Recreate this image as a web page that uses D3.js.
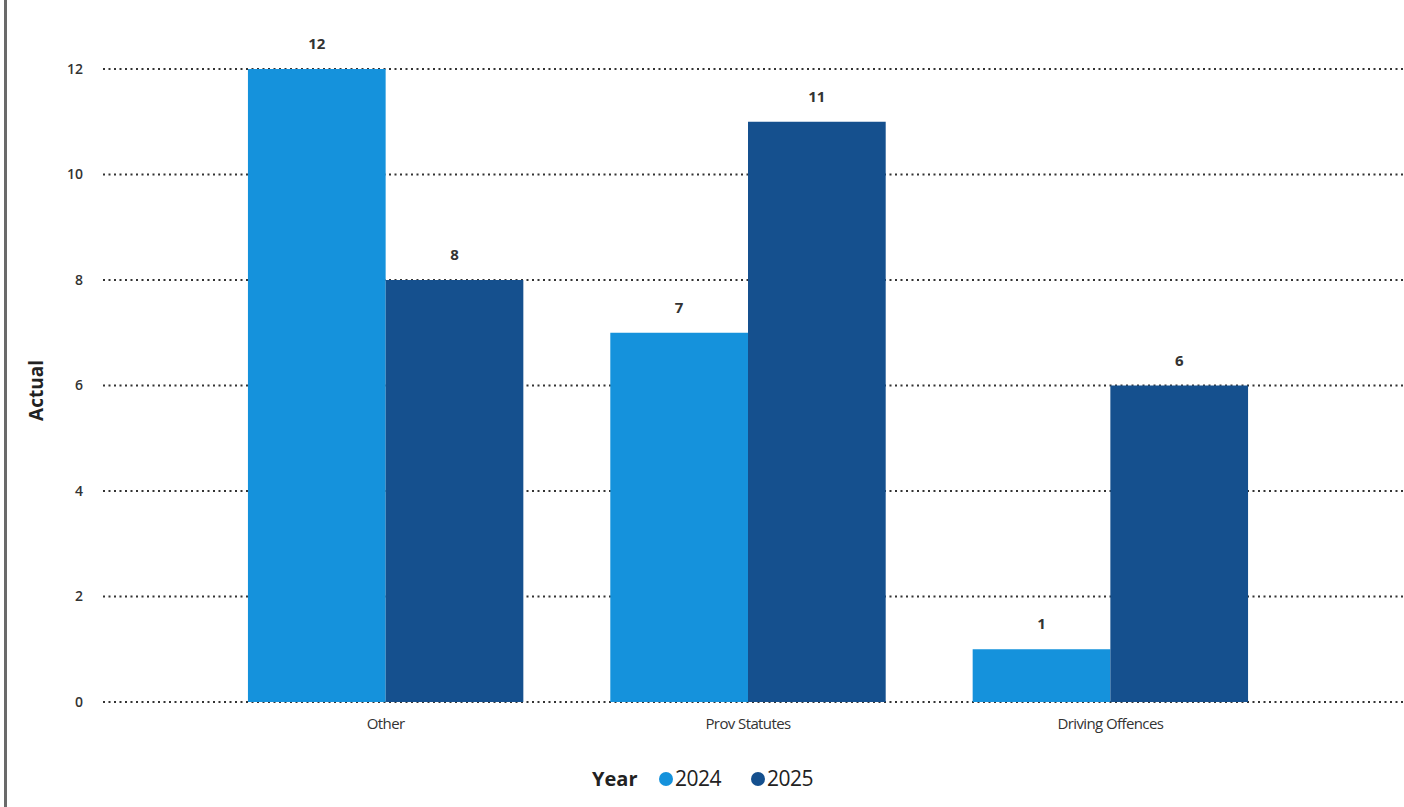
<!DOCTYPE html>
<html>
<head>
<meta charset="utf-8">
<script src="https://cdn.jsdelivr.net/npm/d3@7/dist/d3.min.js"></script>
<style>
  html, body { margin: 0; padding: 0; background: #fff; }
  svg { display: block; }
</style>
</head>
<body>
<svg id="chart" width="1404" height="807"></svg>
<script>
const categories = ["Other", "Prov Statutes", "Driving Offences"];
const years = ["2024", "2025"];
const values2024 = [12, 7, 1];
const values2025 = [8, 11, 6];
const yTicks = [0, 2, 4, 6, 8, 10, 12];
const colors = ["#1592dc", "#15508e"];

const W = 1404, H = 807;
const svg = d3.select("#chart");
const font = "'Open Sans', 'Noto Sans', sans-serif";

// frame line at left
svg.append("line").attr("x1", 5.5).attr("x2", 5.5).attr("y1", 0).attr("y2", H)
  .attr("stroke", "#6a6a6a").attr("stroke-width", 3);

const plot = { left: 103, right: 1393, top: 69, bottom: 702 };

const x = d3.scaleBand().domain(categories).range([plot.left, plot.right])
  .paddingInner(0.24).paddingOuter(0.4);
const xs = d3.scaleBand().domain(years).range([0, x.bandwidth()]).padding(0);
const y = d3.scaleLinear().domain([0, 12]).range([plot.bottom, plot.top]);

// gridlines
const grid = svg.append("g");
grid.selectAll("line").data(yTicks).join("line")
  .attr("x1", plot.left).attr("x2", W)
  .attr("y1", d => y(d)).attr("y2", d => y(d))
  .attr("stroke", "#333").attr("stroke-width", 1.8)
  .attr("stroke-dasharray", "2,3.5");

// y tick labels
const yAxis = d3.axisLeft(y).tickValues(yTicks).tickSize(0).tickPadding(0);
const ya = svg.append("g").attr("transform", `translate(${plot.left - 20},0)`).call(yAxis);
ya.select(".domain").remove();
ya.selectAll("text").attr("font-family", font).attr("font-size", 14)
  .attr("fill", "#333").attr("font-weight", 600);

// y title
svg.append("text").attr("transform", `translate(43,${(plot.top + plot.bottom) / 2 + 5}) rotate(-90)`)
  .attr("text-anchor", "middle").attr("font-family", font).attr("font-size", 19)
  .attr("font-weight", 700).attr("fill", "#222").text("Actual");

// bars
const rows = categories.map((c, i) => ({ cat: c, vals: [values2024[i], values2025[i]] }));
const g = svg.append("g");
const groups = g.selectAll("g").data(rows).join("g")
  .attr("transform", d => `translate(${x(d.cat)},0)`);
groups.selectAll("rect").data(d => d.vals.map((v, j) => ({ v, year: years[j], j })))
  .join("rect")
  .attr("x", d => xs(d.year)).attr("width", xs.bandwidth())
  .attr("y", d => y(d.v)).attr("height", d => y(0) - y(d.v))
  .attr("fill", d => colors[d.j]);
groups.selectAll("text").data(d => d.vals.map((v, j) => ({ v, year: years[j], j })))
  .join("text")
  .attr("x", d => xs(d.year) + xs.bandwidth() / 2).attr("y", d => y(d.v) - 20)
  .attr("text-anchor", "middle").attr("font-family", font).attr("font-size", 15)
  .attr("font-weight", 700).attr("fill", "#333").text(d => d.v);

// x axis labels
const xAxis = d3.axisBottom(x).tickSize(0).tickPadding(0);
const xa = svg.append("g").attr("transform", `translate(0,${plot.bottom + 13})`).call(xAxis);
xa.select(".domain").remove();
xa.selectAll("text").attr("font-family", font).attr("font-size", 15)
  .attr("fill", "#333").attr("dy", "0.9em").attr("letter-spacing", "-0.6px");

// legend
const lg = svg.append("g").attr("transform", "translate(0,779)");
lg.append("text").attr("x", 592).attr("y", 0).attr("dy", "0.35em")
  .attr("font-family", font).attr("font-size", 20).attr("font-weight", 700)
  .attr("fill", "#222").text("Year");
const lx = [666, 758];
years.forEach((yr, i) => {
  lg.append("circle").attr("cx", lx[i]).attr("cy", 0).attr("r", 7).attr("fill", colors[i]);
  lg.append("text").attr("x", lx[i] + 9).attr("y", 0).attr("dy", "0.35em")
    .attr("font-family", font).attr("font-size", 21).attr("fill", "#222")
    .attr("letter-spacing", "-0.5px").text(yr);
});
</script>
</body>
</html>
